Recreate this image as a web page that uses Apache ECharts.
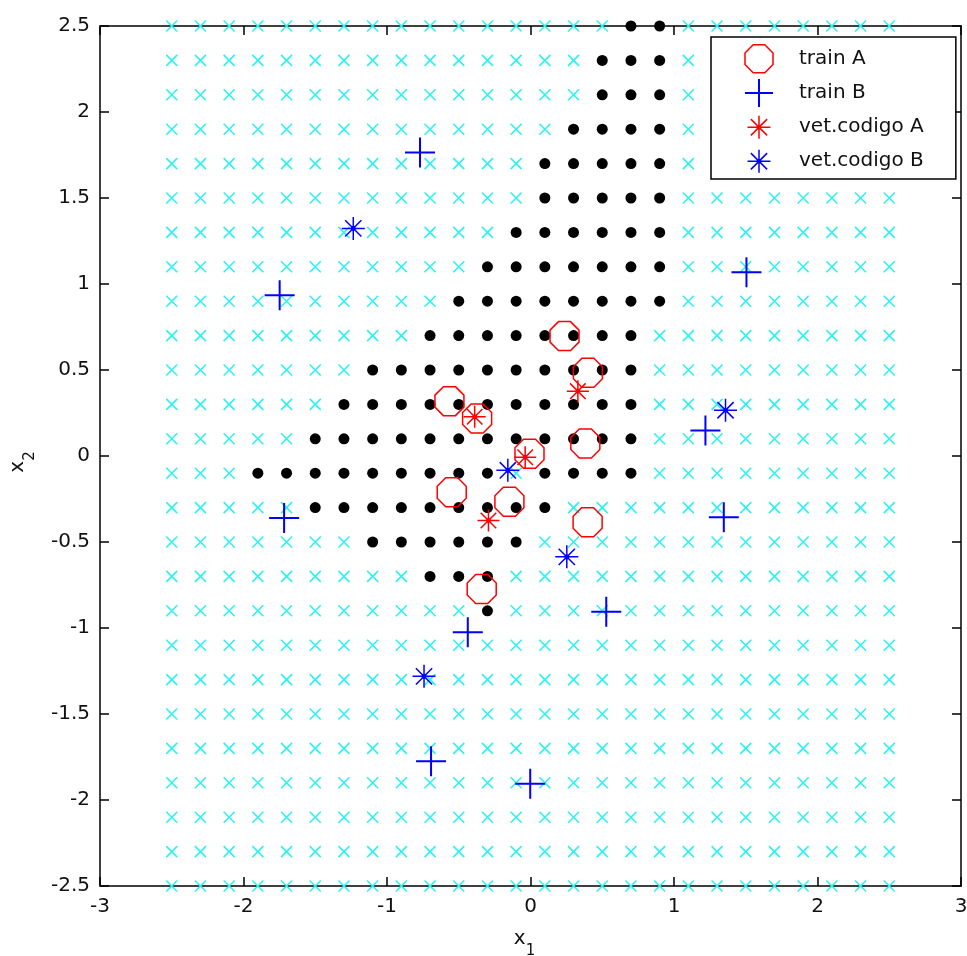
<!DOCTYPE html>
<html>
<head>
<meta charset="utf-8">
<script src="https://cdn.jsdelivr.net/npm/echarts@6/dist/echarts.min.js"></script>
<style>
html,body{margin:0;padding:0;background:#fff;}
#chart{width:967px;height:956px;}
</style>
</head>
<body>
<div id="chart"></div>
<script>
// ---- data ----
const xTicks = [-3, -2, -1, 0, 1, 2, 3];
const yTicks = [-2.5, -2, -1.5, -1, -0.5, 0, 0.5, 1, 1.5, 2, 2.5];

// sampling grid (x1 across, x2 down)
const gridX = [-2.5,-2.3,-2.1,-1.9,-1.7,-1.5,-1.3,-1.1,-0.9,-0.7,-0.5,-0.3,-0.1,0.1,0.3,0.5,0.7,0.9,1.1,1.3,1.5,1.7,1.9,2.1,2.3,2.5];
const gridY = [2.5,2.3,2.1,1.9,1.7,1.5,1.3,1.1,0.9,0.7,0.5,0.3,0.1,-0.1,-0.3,-0.5,-0.7,-0.9,-1.1,-1.3,-1.5,-1.7,-1.9,-2.1,-2.3,-2.5];
// 'o' = classified as A (black dot), '.' = classified as B (cyan x)
const gridClass = [
  "................oo........",
  "...............ooo........",
  "...............ooo........",
  "..............oooo........",
  ".............ooooo........",
  ".............ooooo........",
  "............oooooo........",
  "...........ooooooo........",
  "..........oooooooo........",
  ".........oooooooo.........",
  ".......oooooooooo.........",
  "......ooooooooooo.........",
  ".....oooooooooooo.........",
  "...ooooooooo.oooo.........",
  ".....ooooooooo............",
  ".......oooooo.............",
  ".........ooo..............",
  "...........o..............",
  "..........................",
  "..........................",
  "..........................",
  "..........................",
  "..........................",
  "..........................",
  "..........................",
  ".........................."
];

const trainA = [
  [0.237, 0.697], [0.400, 0.484], [-0.565, 0.319], [-0.372, 0.218], [0.382, 0.073],
  [-0.007, 0.013], [-0.549, -0.211], [-0.147, -0.266], [0.398, -0.385], [-0.340, -0.773]
];
const trainB = [
  [-0.770, 1.764], [-1.748, 0.935], [1.505, 1.069], [1.219, 0.148], [1.347, -0.356],
  [-1.717, -0.360], [0.528, -0.906], [-0.437, -1.025], [-0.693, -1.775], [-0.002, -1.905]
];
const vetA = [
  [0.330, 0.377], [-0.389, 0.228], [-0.037, -0.007], [-0.293, -0.375]
];
const vetB = [
  [-0.158, -0.083], [0.253, -0.586], [-1.235, 1.323], [1.359, 0.266], [-0.742, -1.281]
];

const seriesNames = ['train A', 'train B', 'vet.codigo A', 'vet.codigo B'];

// ---- build grid point lists from the class table ----
const gridAPts = [], gridBPts = [];
gridY.forEach((y, r) => {
  gridX.forEach((x, c) => {
    const ch = gridClass[r].charAt(c);
    if (ch === 'o') gridAPts.push([x, y]); else gridBPts.push([x, y]);
  });
});

const FONT = '"DejaVu Sans", "Liberation Sans", Arial, sans-serif';
const TXT = '#111';

const OCT = 'path://M0.383,-0.924L0.924,-0.383L0.924,0.383L0.383,0.924L-0.383,0.924L-0.924,0.383L-0.924,-0.383L-0.383,-0.924Z';
const PLUS = 'path://M0,-1L0,1M-1,0L1,0';
const STAR = 'path://M0,-1L0,1M-1,0L1,0M-0.707,-0.707L0.707,0.707M-0.707,0.707L0.707,-0.707M-0.14,-0.14L0.14,-0.14L0.14,0.14L-0.14,0.14Z';
const STAR_LEG = 'path://M-1.22,-1.22M1.22,1.22M0,-1L0,1M-1,0L1,0M-0.707,-0.707L0.707,0.707M-0.707,0.707L0.707,-0.707M-0.14,-0.14L0.14,-0.14L0.14,0.14L-0.14,0.14Z';
const CROSS = 'path://M-1,-1L1,1M-1,1L1,-1';

const axisLineStyle = { color: '#000', width: 1.5 };
const tickStyle = { show: true, inside: true, length: 9, lineStyle: { color: '#000', width: 1.5 } };

const xNameRich = {
  x: { fontSize: 20, fontFamily: FONT, color: TXT, padding: [0, 0, 24, 0] },
  s: { fontSize: 15, fontFamily: FONT, color: TXT, padding: [0, 12, 0, 0] }
};
const yNameRich = {
  x: { fontSize: 20, fontFamily: FONT, color: TXT, padding: [0, 0, 24, 0] },
  s: { fontSize: 15, fontFamily: FONT, color: TXT, padding: [0, 12, 0, 0] }
};

const chart = echarts.init(document.getElementById('chart'), null, { renderer: 'canvas' });
chart.setOption({
  animation: false,
  backgroundColor: '#fff',
  grid: { left: 100, right: 6, top: 26, bottom: 70, containLabel: false, outerBoundsMode: 'none' },
  xAxis: [
    {
      type: 'value', min: xTicks[0], max: xTicks[xTicks.length - 1], interval: 1,
      position: 'bottom',
      axisLine: { show: true, onZero: false, lineStyle: axisLineStyle },
      axisTick: tickStyle,
      splitLine: { show: false },
      axisLabel: { margin: 11, fontSize: 20, fontFamily: FONT, color: TXT, showMinLabel: true, showMaxLabel: true },
      name: '{x|x}{s|1}',
      nameLocation: 'middle',
      nameGap: 43,
      nameTextStyle: { rich: xNameRich }
    },
    {
      type: 'value', min: xTicks[0], max: xTicks[xTicks.length - 1], interval: 1,
      position: 'top',
      axisLine: { show: true, onZero: false, lineStyle: axisLineStyle },
      axisTick: tickStyle,
      splitLine: { show: false },
      axisLabel: { show: false }
    }
  ],
  yAxis: [
    {
      type: 'value', min: yTicks[0], max: yTicks[yTicks.length - 1], interval: 0.5,
      position: 'left',
      axisLine: { show: true, onZero: false, lineStyle: axisLineStyle },
      axisTick: tickStyle,
      splitLine: { show: false },
      axisLabel: { margin: 10, fontSize: 20, fontFamily: FONT, color: TXT, showMinLabel: true, showMaxLabel: true },
      name: '{x|x}{s|2}',
      nameLocation: 'middle',
      nameGap: 48,
      nameTextStyle: { rich: yNameRich }
    },
    {
      type: 'value', min: yTicks[0], max: yTicks[yTicks.length - 1], interval: 0.5,
      position: 'right',
      axisLine: { show: true, onZero: false, lineStyle: axisLineStyle },
      axisTick: tickStyle,
      splitLine: { show: false },
      axisLabel: { show: false }
    }
  ],
  legend: {
    orient: 'vertical',
    left: 711,
    top: 37,
    padding: [7, 32, 3, 33],
    itemWidth: 70,
    itemHeight: 28,
    itemGap: 4.5,
    symbolKeepAspect: true,
    backgroundColor: '#fff',
    borderColor: '#000',
    borderWidth: 1.5,
    borderRadius: 0,
    selectedMode: false,
    textStyle: { fontSize: 20, fontFamily: FONT, color: TXT },
    data: [
      { name: seriesNames[0], icon: OCT, itemStyle: { color: 'rgba(0,0,0,0)', borderColor: '#ff0000', borderWidth: 1.5 } },
      { name: seriesNames[1], icon: PLUS, itemStyle: { color: '#0000ff', borderColor: '#0000ff', borderWidth: 2 } },
      { name: seriesNames[2], icon: STAR_LEG, itemStyle: { color: '#ff0000', borderColor: '#ff0000', borderWidth: 1.5 } },
      { name: seriesNames[3], icon: STAR_LEG, itemStyle: { color: '#0000ff', borderColor: '#0000ff', borderWidth: 1.5 } }
    ]
  },
  series: [
    {
      name: 'grid B', type: 'scatter', silent: true, data: gridBPts,
      symbol: CROSS, symbolSize: 11,
      itemStyle: { color: '#00ffff', borderColor: '#2ef2f2', borderWidth: 1.6, opacity: 1 }
    },
    {
      name: 'grid A', type: 'scatter', silent: true, data: gridAPts,
      symbol: 'circle', symbolSize: 11,
      itemStyle: { color: '#000', opacity: 1 }
    },
    {
      name: seriesNames[0], type: 'scatter', silent: true, data: trainA,
      symbol: OCT, symbolSize: 29,
      itemStyle: { color: 'rgba(0,0,0,0)', borderColor: '#ff0000', borderWidth: 1.5, opacity: 1 }
    },
    {
      name: seriesNames[1], type: 'scatter', silent: true, data: trainB,
      symbol: PLUS, symbolSize: 30,
      itemStyle: { color: '#0000ff', borderColor: '#0000ff', borderWidth: 2, opacity: 1 }
    },
    {
      name: seriesNames[2], type: 'scatter', silent: true, data: vetA,
      symbol: STAR, symbolSize: 22,
      itemStyle: { color: '#ff0000', borderColor: '#ff0000', borderWidth: 1.5, opacity: 1 }
    },
    {
      name: seriesNames[3], type: 'scatter', silent: true, data: vetB,
      symbol: STAR, symbolSize: 23,
      itemStyle: { color: '#0000ff', borderColor: '#0000ff', borderWidth: 1.5, opacity: 1 }
    }
  ]
});
</script>
</body>
</html>
